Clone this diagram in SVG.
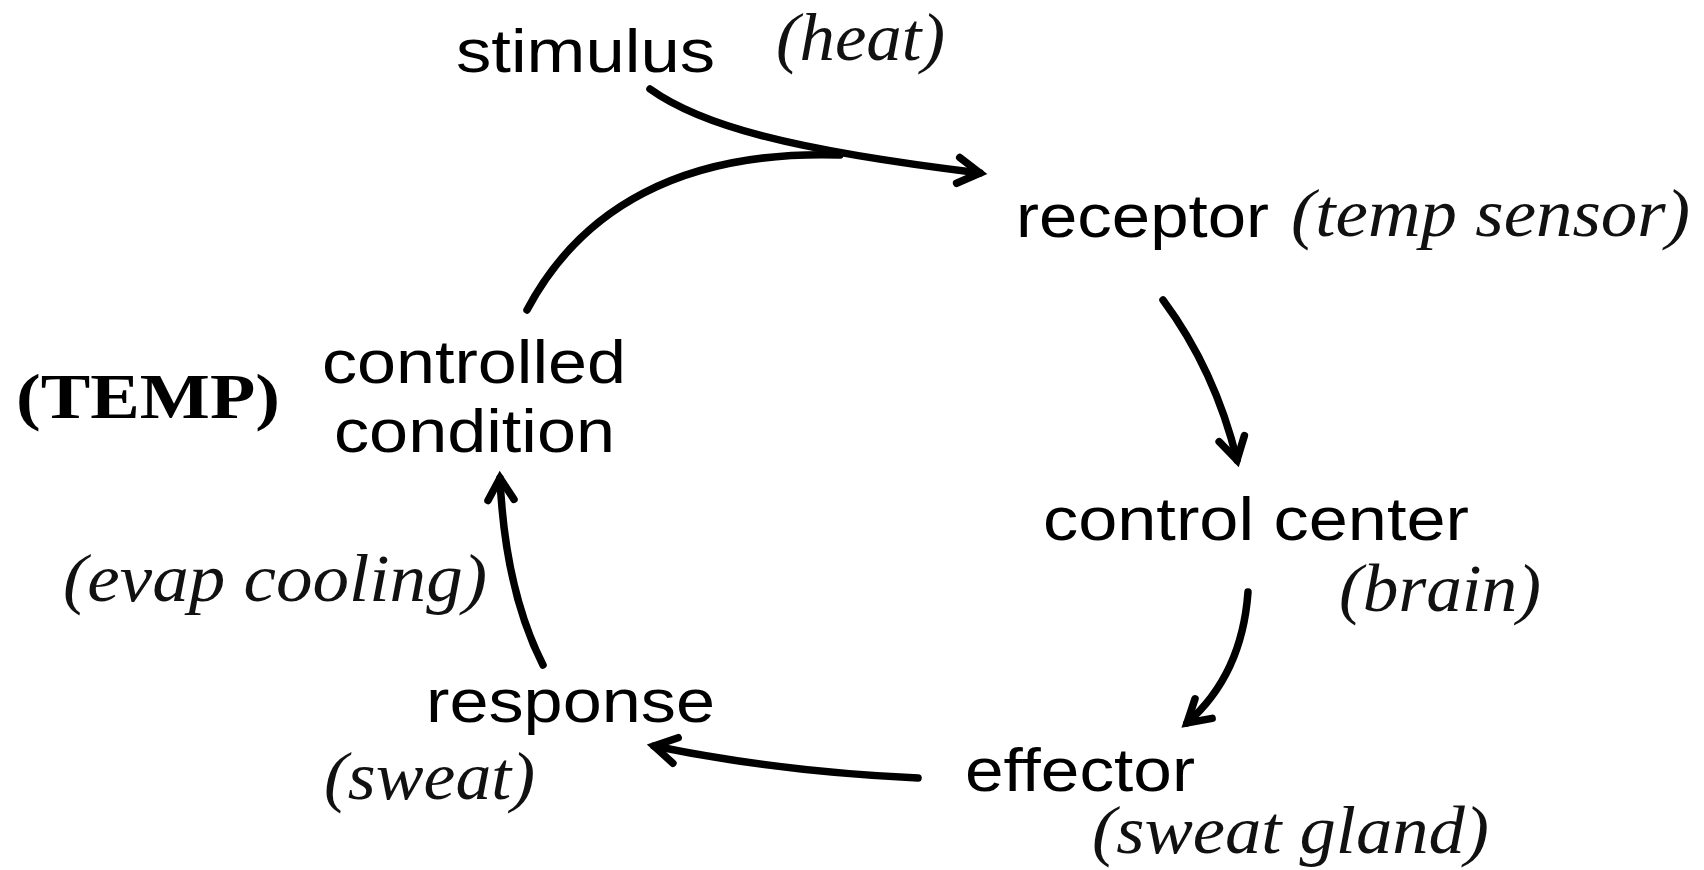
<svg xmlns="http://www.w3.org/2000/svg" width="1704" height="870" viewBox="0 0 1704 870">
<defs>
<style>
.s{font-family:"Liberation Sans",Arial,sans-serif;font-size:62px;fill:#000}
.i{font-family:"Liberation Serif","Times New Roman",serif;font-style:italic;font-size:68px;fill:#111}
.b{font-family:"Liberation Serif","Times New Roman",serif;font-weight:bold;font-size:64px;fill:#000}
.c{fill:none;stroke:#000;stroke-width:7.5;stroke-linecap:round}
</style>
<marker id="ah" markerUnits="userSpaceOnUse" viewBox="-30 -20 40 40" markerWidth="40" markerHeight="40" refX="0" refY="0" orient="auto">
<path d="M-22,-13 L0,0 L-22,13" fill="none" stroke="#000" stroke-width="7.5" stroke-linecap="round" stroke-linejoin="miter"/>
</marker>
</defs>
<rect width="1704" height="870" fill="#fff"/>
<g id="connectors">
<path class="c" d="M650,89 C700,125 790,150 980,173" marker-end="url(#ah)"/>
<path class="c" d="M527,310 C580,210 680,150 840,155"/>
<path class="c" d="M1163,300 Q1215,370 1237,460" marker-end="url(#ah)"/>
<path class="c" d="M1248,592 Q1242,675 1187,723" marker-end="url(#ah)"/>
<path class="c" d="M918,778 Q780,772 654,746" marker-end="url(#ah)"/>
<path class="c" d="M543,665 Q505,590 500,478" marker-end="url(#ah)"/>
</g>
<g id="stimulus">
<text class="s" x="456" y="72" textLength="259" lengthAdjust="spacingAndGlyphs">stimulus</text>
<text class="i" x="776" y="60" textLength="169" lengthAdjust="spacingAndGlyphs">(heat)</text>
</g>
<g id="receptor">
<text class="s" x="1016" y="237" textLength="253" lengthAdjust="spacingAndGlyphs">receptor</text>
<text class="i" x="1291" y="236" textLength="399" lengthAdjust="spacingAndGlyphs">(temp sensor)</text>
</g>
<g id="control-center">
<text class="s" x="1043" y="540" textLength="426" lengthAdjust="spacingAndGlyphs">control center</text>
<text class="i" x="1339" y="611" textLength="202" lengthAdjust="spacingAndGlyphs">(brain)</text>
</g>
<g id="effector">
<text class="s" x="965" y="791" textLength="230" lengthAdjust="spacingAndGlyphs">effector</text>
<text class="i" x="1092" y="853" textLength="397" lengthAdjust="spacingAndGlyphs">(sweat gland)</text>
</g>
<g id="response">
<text class="s" x="426" y="722" textLength="289" lengthAdjust="spacingAndGlyphs">response</text>
<text class="i" x="324" y="799" textLength="211" lengthAdjust="spacingAndGlyphs">(sweat)</text>
<text class="i" x="63" y="601" textLength="424" lengthAdjust="spacingAndGlyphs">(evap cooling)</text>
</g>
<g id="controlled-condition">
<text class="b" x="16" y="418" textLength="264" lengthAdjust="spacingAndGlyphs">(TEMP)</text>
<text class="s" x="322" y="383" textLength="304" lengthAdjust="spacingAndGlyphs">controlled</text>
<text class="s" x="334" y="452" textLength="281" lengthAdjust="spacingAndGlyphs">condition</text>
</g>
</svg>
